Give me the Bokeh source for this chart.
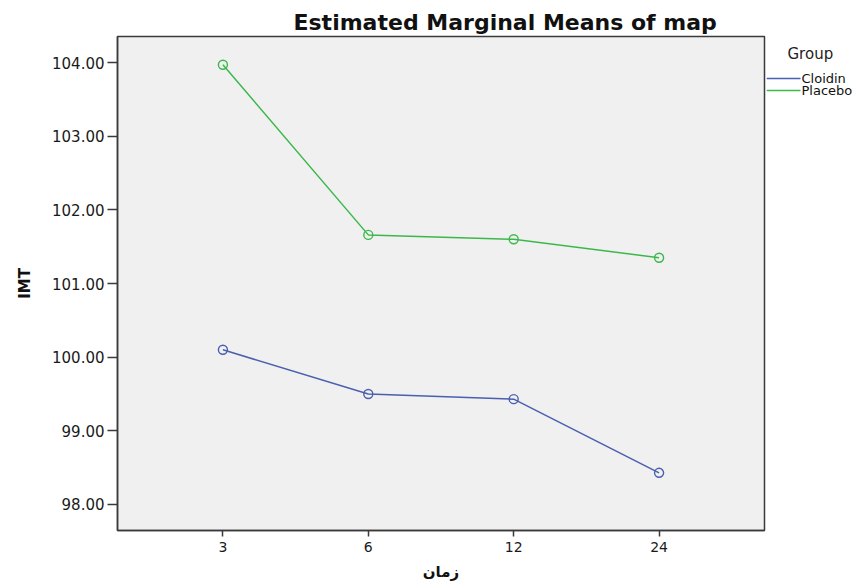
from bokeh.plotting import figure
from bokeh.layouts import row
from bokeh.models import (FactorRange, Range1d, FixedTicker, PrintfTickFormatter,
                          ColumnDataSource)
from bokeh.core.properties import value
from bokeh.embed import file_html
from bokeh.resources import INLINE

# ---- data ----
times = ["3", "6", "12", "24"]
cloidin = [100.10, 99.50, 99.43, 98.43]
placebo = [103.97, 101.66, 101.60, 101.35]
y_ticks = [98, 99, 100, 101, 102, 103, 104]
groups = ["Cloidin", "Placebo"]
colors = ["#4a5faf", "#3cb84a"]
title_text = "Estimated Marginal Means of map"
x_label = "زمان"
y_label = "IMT"
legend_title = "Group"

FONT = "DejaVu Sans"
AX = "#3a3a3a"
H = 584
MAIN_W = 766
FRAME_TOP, FRAME_BOTTOM = 36, 530

p = figure(width=MAIN_W, height=H,
           x_range=FactorRange(*times, range_padding=0.225, range_padding_units="absolute"),
           y_range=Range1d(97.647, 104.353),
           output_backend="svg", toolbar_location=None,
           min_border_left=117, min_border_right=2, min_border_top=FRAME_TOP,
           min_border_bottom=H - FRAME_BOTTOM)

p.background_fill_color = "#f0f0f0"
p.border_fill_color = "white"
p.outline_line_color = AX
p.outline_line_width = 1.5
p.xgrid.visible = False
p.ygrid.visible = False

# title
p.title.text = title_text
p.title.text_font = FONT
p.title.text_font_style = "bold"
p.title.text_font_size = "22px"
p.title.text_color = "#111111"
p.title.align = "left"
p.title.offset = 176
p.title.standoff = 4

# series
for vals, col in zip([cloidin, placebo], colors):
    src = ColumnDataSource(dict(x=times, y=vals))
    p.line("x", "y", source=src, line_color=col, line_width=1.5)
    p.scatter("x", "y", source=src, marker="circle", size=9, fill_color=None,
              line_color=col, line_width=1.4)

# axes
for ax in (p.xaxis[0], p.yaxis[0]):
    ax.axis_line_color = AX
    ax.axis_line_width = 1.5
    ax.major_tick_line_color = AX
    ax.major_tick_line_width = 1.5
    ax.major_tick_in = 0
    ax.minor_tick_line_color = None
    ax.major_label_text_font = FONT
    ax.major_label_text_color = "#1a1a1a"
    ax.axis_label_text_font = FONT
    ax.axis_label_text_font_style = "bold"
    ax.axis_label_text_color = "#111111"

p.xaxis.major_tick_out = 6
p.xaxis.major_label_standoff = 5
p.xaxis.major_label_text_font_size = "14px"
p.xaxis.axis_label = x_label
p.xaxis.axis_label_text_font_size = "15px"
p.xaxis.axis_label_standoff = 8

p.yaxis.ticker = FixedTicker(ticks=y_ticks, minor_ticks=[])
p.yaxis.formatter = PrintfTickFormatter(format="%.2f")
p.yaxis.major_tick_out = 10
p.yaxis.major_label_standoff = 3
p.yaxis.major_label_text_font_size = "15px"
p.yaxis.axis_label = y_label
p.yaxis.axis_label_text_font_size = "15px"
p.yaxis.axis_label_standoff = 15

# legend panel to the right (pixel space, y downwards; its frame is aligned with the main frame)
lg = figure(width=866 - MAIN_W, height=H, x_range=Range1d(MAIN_W, 866),
            y_range=Range1d(FRAME_BOTTOM, FRAME_TOP),
            x_axis_type=None, y_axis_type=None, output_backend="svg", toolbar_location=None,
            min_border=0, outline_line_color=None)
lg.xgrid.visible = False
lg.ygrid.visible = False
lg.background_fill_color = "white"
lg.border_fill_color = "white"

lg.text(x=[787], y=[53], text=[legend_title], text_font=value(FONT), text_font_size="15px",
        text_color="#222222", text_baseline="middle", text_align="left")
item_y = [78, 90]
lg.segment(x0=[MAIN_W] * 2, y0=item_y, x1=[800] * 2, y1=item_y, line_color=colors, line_width=1.5)
lg.text(x=[801] * 2, y=item_y, text=groups, text_font=value(FONT), text_font_size="13px",
        text_color="#111111", text_baseline="middle", text_align="left")

layout = row(p, lg, spacing=0)
open("out.html", "w").write(file_html(layout, INLINE))
